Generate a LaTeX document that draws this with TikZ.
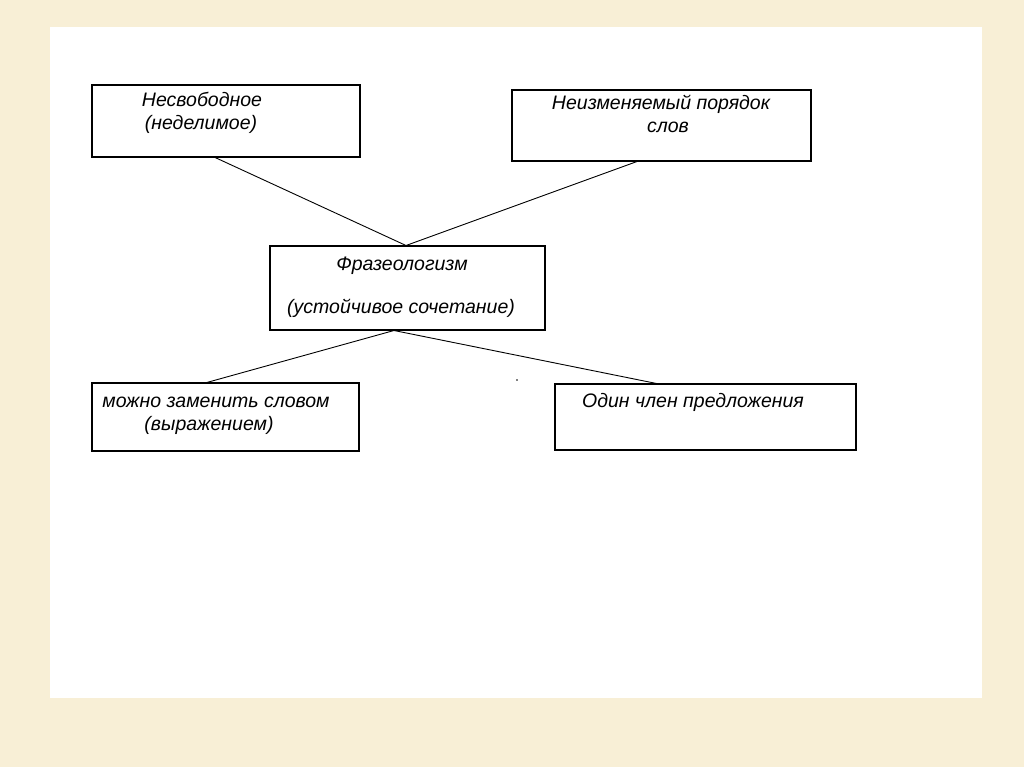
\documentclass[tikz,border=0pt]{standalone}
\usepackage{fontspec}
\setmainfont{Liberation Sans}
\begin{document}
\begin{tikzpicture}[x=1pt,y=-1pt,
  box/.style={draw=black,line width=1.3pt,rectangle,inner sep=0pt},
  lbl/.style={font=\fontsize{19.5}{23}\selectfont\itshape,align=center,inner sep=0pt,anchor=base},
  link/.style={draw=black,line width=0.9pt}]
\definecolor{bgbeige}{HTML}{F8EFD6}
\useasboundingbox (0,0) rectangle (1024,767);
\fill[bgbeige] (0,0) rectangle (1024,767);
\fill[white] (50,27) rectangle (982,698);
% boxes
\node[box,minimum width=268pt,minimum height=72pt] (b1) at (226,121) {};
\node[box,minimum width=299pt,minimum height=71pt] (b2) at (661.5,125.5) {};
\node[box,minimum width=275pt,minimum height=84pt] (b3) at (407.5,288) {};
\node[box,minimum width=267pt,minimum height=68pt] (b4) at (225.5,417) {};
\node[box,minimum width=301pt,minimum height=66pt] (b5) at (705.5,417) {};
% texts
\node[lbl] (t1a) at (202,107) {Несвободное};
\node[lbl] (t1b) at (201,130) {(неделимое)};
\node[lbl] (t2a) at (661,110) {Неизменяемый порядок};
\node[lbl] (t2b) at (668,133) {слов};
\node[lbl] (t3a) at (402,270) {Фразеологизм};
\node[lbl] (t3b) at (401,313) {(устойчивое сочетание)};
\node[lbl] (t4a) at (216,407) {можно заменить словом};
\node[lbl] (t4b) at (209,430) {(выражением)};
\node[lbl] (t5) at (693,407) {Один член предложения};
% connector points
\coordinate (p1) at (214,157);
\coordinate (p2) at (637,161.5);
\coordinate (top3) at (406,245.5);
\coordinate (bot3) at (394,330.5);
\coordinate (p4) at (205,383);
\coordinate (p5) at (659,384);
\draw[link] (p1) -- (top3) -- (p2);
\draw[link] (p4) -- (bot3) -- (p5);
\fill[black] (517,380) circle (0.8pt);
\end{tikzpicture}
\end{document}
